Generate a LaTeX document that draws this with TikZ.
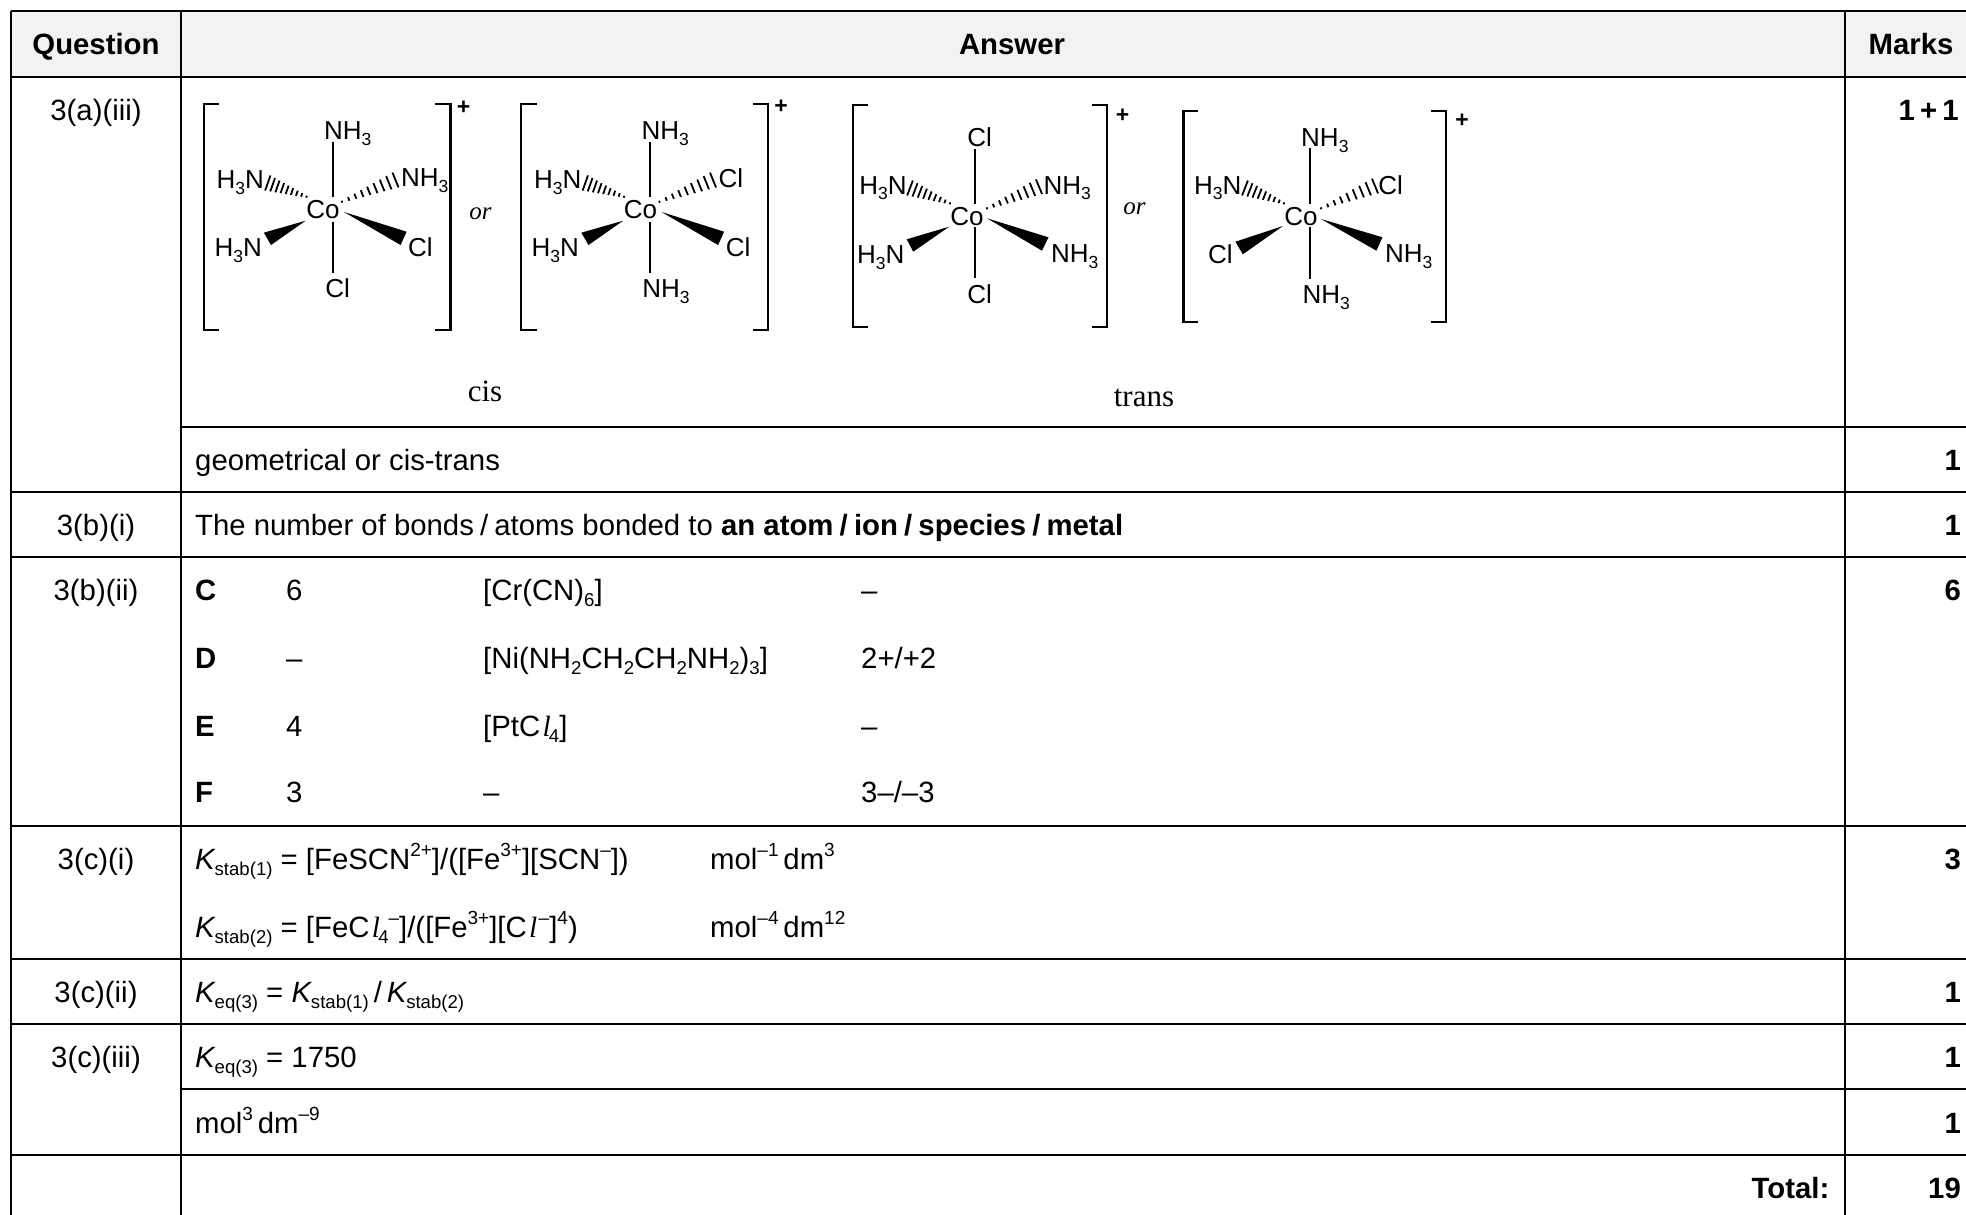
\documentclass[tikz,border=0pt]{standalone}
\usepackage{fontspec}
\setmainfont{Liberation Sans}
\newfontfamily\tms{Liberation Serif}
\usetikzlibrary{calc}
\newcommand{\bsub}[1]{\raisebox{-.22em}{\fontsize{18.6}{19}\selectfont #1}}
\newcommand{\bsup}[1]{\raisebox{.42em}{\fontsize{19}{19}\selectfont #1}}
\newcommand{\lsub}[1]{\raisebox{-.22em}{\fontsize{17.5}{17.5}\selectfont #1}}
\newcommand{\itl}{\kern.08em{\tms\itshape l}\kern.05em}
\newcommand{\itls}{\kern.08em{\tms\itshape l}\kern-.06em}
\newcommand{\Kk}{\textit{K}\kern-.04em}
\newcommand{\sep}{\hspace{.21em}/\hspace{.21em}}
\newcommand{\hashb}[4]{%
  \foreach \i in {0,...,8}{%
    \pgfmathsetmacro\hf{\i/8}%
    \pgfmathsetmacro\px{#1+(#3-#1)*\hf}%
    \pgfmathsetmacro\py{#2+(#4-#2)*\hf}%
    \pgfmathsetmacro\ln{veclen(#3-#1,#4-#2)}%
    \pgfmathsetmacro\hw{1+7*\hf}%
    \pgfmathsetmacro\nx{-(#4-#2)/\ln*\hw}%
    \pgfmathsetmacro\ny{(#3-#1)/\ln*\hw}%
    \draw[bondline] (\px+\nx,\py+\ny) -- (\px-\nx,\py-\ny);
  }%
}
\tikzset{
  x=1pt,y=-1pt,
  rule/.style={line width=2pt,black},
  bondline/.style={line width=1.8pt,black},
  bracket/.style={line width=2.2pt,black},
  body/.style={anchor=base west,inner sep=0pt,font=\fontsize{29.33}{32}\selectfont},
  bodyc/.style={body,anchor=base},
  bodyr/.style={body,anchor=base east},
  head/.style={bodyc,font=\fontsize{29.33}{32}\selectfont\bfseries},
  boldtext/.style={font=\fontsize{29.33}{32}\selectfont\bfseries},
  lab/.style={anchor=base west,inner sep=0pt,xshift=-1.2pt,font=\fontsize{26}{28}\selectfont},
  plus/.style={anchor=center,inner sep=0pt,font=\fontsize{23}{23}\selectfont\bfseries},
  serifit/.style={anchor=center,inner sep=0pt,font=\tms\itshape\fontsize{25}{28}\selectfont},
  serif/.style={anchor=center,inner sep=0pt,font=\tms\fontsize{31}{34}\selectfont},
}
\begin{document}
\begin{tikzpicture}
\useasboundingbox (0,0) rectangle (1966,1215);
\fill[white] (0,0) rectangle (1966,1215);
\fill[black!5] (11,11) rectangle (1966,77);
% grid
\foreach \yy in {11,77,491.5,557,826,959,1024,1155}{\draw[rule] (11,\yy) -- (1966,\yy);}
\foreach \yy in {427,1088.5}{\draw[rule] (181,\yy) -- (1966,\yy);}
\foreach \xx in {11,181,1845}{\draw[rule] (\xx,11) -- (\xx,1215);}
% header
\node[head] (hq) at (96,55) {Question};
\node[head] (ha) at (1012,55) {Answer};
\node[head] (hm) at (1911,55) {Marks};
% column 1
\node[bodyc] (q1) at (96,120) {3(a)(iii)};
\node[bodyc] (q2) at (96,535) {3(b)(i)};
\node[bodyc] (q3) at (96,600) {3(b)(ii)};
\node[bodyc] (q4) at (96,869) {3(c)(i)};
\node[bodyc] (q5) at (96,1002) {3(c)(ii)};
\node[bodyc] (q6) at (96,1067) {3(c)(iii)};
% marks
\node[bodyr,boldtext] (m1) at (1959,120) {1\hspace{.18em}+\hspace{.18em}1};
\foreach \nm/\yy/\tx in {m2/470/1,m3/535/1,m4/600/6,m5/869/3,m6/1002/1,m7/1067/1,m8/1133/1,m9/1198/19}{
  \node[bodyr,boldtext] (\nm) at (1961,\yy) {\tx};
}
\node[bodyr,boldtext] (tot) at (1829.5,1198) {Total:};
% answers
\node[body] (a1) at (195,470) {geometrical or cis-trans};
\node[body] (a2) at (195,535) {The number of bonds\sep atoms bonded to \textbf{an atom\sep ion\sep species\sep metal}};
\node[body,boldtext] (cC) at (195,600) {C};
\node[body] (c6) at (286,600) {6};
\node[body] (cf) at (483,600) {[Cr(CN)\bsub{6}]};
\node[body] (cq) at (861,600) {--};
\node[body,boldtext] (cD) at (195,668) {D};
\node[body] (dn) at (286,668) {--};
\node[body] (df) at (483,668) {[Ni(NH\bsub{2}CH\bsub{2}CH\bsub{2}NH\bsub{2})\bsub{3}]};
\node[body] (dq) at (861,668) {2+/+2};
\node[body,boldtext] (cE) at (195,736) {E};
\node[body] (en) at (286,736) {4};
\node[body] (ef) at (483,736) {[PtC\itls\bsub{4}]};
\node[body] (eq) at (861,736) {--};
\node[body,boldtext] (cF) at (195,802) {F};
\node[body] (fn) at (286,802) {3};
\node[body] (ff) at (483,802) {--};
\node[body] (fq) at (861,802) {3--/--3};
\node[body] (k1) at (195,869) {\Kk\bsub{stab(1)} = [FeSCN\bsup{2+}]/([Fe\bsup{3+}][SCN\bsup{--}])};
\node[body] (u1) at (710,869) {mol\bsup{--1}\,dm\bsup{3}};
\node[body] (k2) at (195,937) {\Kk\bsub{stab(2)} = [FeC\itls\bsub{4}\bsup{--}]/([Fe\bsup{3+}][C\itl\bsup{--}]\bsup{4})};
\node[body] (u2) at (710,937) {mol\bsup{--4}\,dm\bsup{12}};
\node[body] (k3) at (195,1002) {\Kk\bsub{eq(3)} = \Kk\bsub{stab(1)}\,/\,\Kk\bsub{stab(2)}};
\node[body] (k4) at (195,1067) {\Kk\bsub{eq(3)} = 1750};
\node[body] (k5) at (195,1133) {mol\bsup{3}\,dm\bsup{--9}};
% brackets
\draw[bracket] (219,104) -| (203.7,330) -- (219,330);
\draw[bracket] (435,104) -| (450.5,330) -- (435,330);
\draw[bracket] (536.5,104) -| (521,330) -- (536.5,330);
\draw[bracket] (752.5,104) -| (768,330) -- (752.5,330);
\draw[bracket] (867.7,105.3) -| (853,327.3) -- (867.7,327.3);
\draw[bracket] (1092,105.3) -| (1106.6,327.3) -- (1092,327.3);
\draw[bracket] (1198,110.7) -| (1183.4,322) -- (1198,322);
\draw[bracket] (1431.4,110.7) -| (1445.8,322) -- (1431.4,322);
\node[plus] (p1) at (463.5,107.5) {+};
\node[plus] (p2) at (781,107) {+};
\node[plus] (p3) at (1122.5,115.5) {+};
\node[plus] (p4) at (1462,120.5) {+};
\node[serifit] (or1) at (480.5,213.7) {or};
\node[serifit] (or2) at (1134.4,209) {or};
\node[serif] (cis) at (485,391.7) {cis};
\node[serif] (trans) at (1144,397.7) {trans};
% structure 1
\node[lab] (a1t) at (325,139.3) {NH\lsub{3}};
\node[lab] (a1ul) at (217.6,188.3) {H\lsub{3}N};
\node[lab] (a1ur) at (402,186.7) {NH\lsub{3}};
\node[lab] (a1ll) at (215.6,256.7) {H\lsub{3}N};
\node[lab] (a1lr) at (409,256) {Cl};
\node[lab] (a1b) at (326.3,297.3) {Cl};
\node[lab] (a1c) at (307.3,218.3) {Co};
\draw[bondline] (332.6,141.7) -- (332.6,196.7);
\draw[bondline] (332.6,221.7) -- (332.6,272.7);
\hashb{306.5}{196.7}{267.8}{183}
\hashb{342}{201.7}{395.5}{180}
\fill (305.7,220.7) -- (263.8,232.7) -- (271,245) -- cycle;
\fill (344,212) -- (406.6,231.7) -- (400.6,245) -- cycle;
% structure 2
\node[lab] (a2t) at (642.6,139.3) {NH\lsub{3}};
\node[lab] (a2ul) at (535,188.3) {H\lsub{3}N};
\node[lab] (a2ur) at (719.7,187.3) {Cl};
\node[lab] (a2ll) at (532.7,256.7) {H\lsub{3}N};
\node[lab] (a2lr) at (726.9,256) {Cl};
\node[lab] (a2b) at (643.4,297.3) {NH\lsub{3}};
\node[lab] (a2c) at (624.8,218.3) {Co};
\draw[bondline] (650,141.7) -- (650,196.7);
\draw[bondline] (650,221.7) -- (650,272.7);
\hashb{624}{196.7}{585.3}{183}
\hashb{659.5}{201.7}{713}{180}
\fill (623.2,220.7) -- (581.3,232.7) -- (588.5,245) -- cycle;
\fill (661.5,212) -- (724.1,231.7) -- (718.1,245) -- cycle;
% structure 3
\node[lab] (a3t) at (968.3,146) {Cl};
\node[lab] (a3ul) at (860.3,194) {H\lsub{3}N};
\node[lab] (a3ur) at (1044.6,194) {NH\lsub{3}};
\node[lab] (a3ll) at (858.2,263.3) {H\lsub{3}N};
\node[lab] (a3lr) at (1052,262.7) {NH\lsub{3}};
\node[lab] (a3b) at (968.3,303.3) {Cl};
\node[lab] (a3c) at (951.4,225) {Co};
\draw[bondline] (975.2,149.3) -- (975.2,204);
\draw[bondline] (975.2,226.7) -- (975.2,278.3);
\hashb{950}{203.3}{910}{188}
\hashb{987}{208.3}{1039}{186.7}
\fill (949.2,226.7) -- (906.7,239.3) -- (913.2,251.7) -- cycle;
\fill (987,218.3) -- (1048.5,237.3) -- (1042,250.7) -- cycle;
% structure 4
\node[lab] (a4t) at (1302.2,146.7) {NH\lsub{3}};
\node[lab] (a4ul) at (1195,194) {H\lsub{3}N};
\node[lab] (a4ur) at (1379.4,194) {Cl};
\node[lab] (a4ll) at (1209,263.3) {Cl};
\node[lab] (a4lr) at (1386,262.7) {NH\lsub{3}};
\node[lab] (a4b) at (1303.5,303.3) {NH\lsub{3}};
\node[lab] (a4c) at (1285.3,225) {Co};
\draw[bondline] (1310,148.3) -- (1310,204);
\draw[bondline] (1310,226.7) -- (1310,279.3);
\hashb{1284}{203.3}{1245}{188}
\hashb{1321}{208.3}{1375}{186}
\fill (1283,226) -- (1235.4,241.7) -- (1242.8,254.3) -- cycle;
\fill (1321,219) -- (1382.4,237.3) -- (1376.4,250.7) -- cycle;
\end{tikzpicture}
\end{document}
